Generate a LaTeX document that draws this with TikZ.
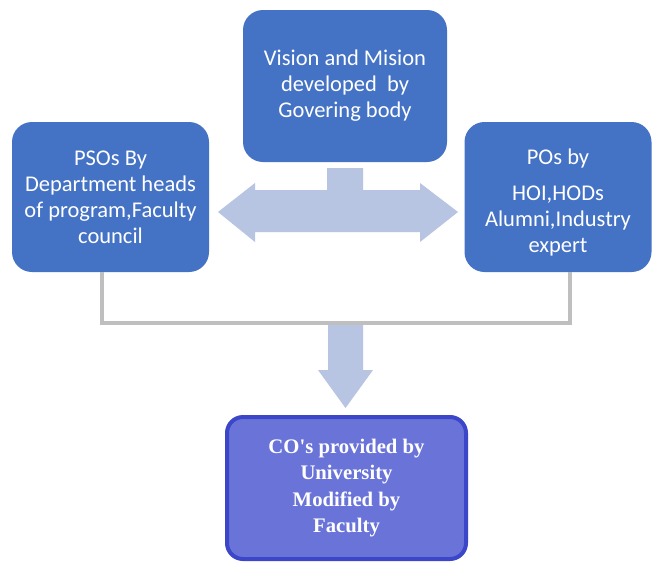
\documentclass[tikz,border=0pt]{standalone}
\usepackage{fontspec}
\setmainfont{Carlito}
\newfontfamily\timesbold[BoldFont={Liberation Serif Bold}]{Liberation Serif}
\usetikzlibrary{calc}
\definecolor{boxblue}{HTML}{4472C4}
\definecolor{arrowblue}{HTML}{B7C4E2}
\definecolor{linegray}{HTML}{BFBFBF}
\definecolor{cofill}{HTML}{6A74D8}
\definecolor{coborder}{HTML}{3C46C8}
\tikzset{
  bluebox/.style={rectangle, rounded corners=20pt, fill=boxblue, draw=none,
    text=white, align=center, inner sep=0pt,
    font=\fontsize{22.5}{26}\selectfont},
  cobox/.style={rectangle, rounded corners=16pt, fill=cofill, draw=coborder,
    line width=4pt, text=white, align=center, inner sep=0pt,
    font=\timesbold\bfseries\fontsize{20.7}{26.5}\selectfont},
  bracket/.style={draw=linegray, line width=4pt},
  bigarrow/.style={fill=arrowblue, draw=none}
}
\begin{document}
\begin{tikzpicture}[x=1pt,y=-1pt]
\useasboundingbox[fill=white] (0,0) rectangle (652,562);

% three source boxes
\node[bluebox, minimum width=204pt, minimum height=152pt] (vm) at (345,86)
  {Vision and Mision\\developed\ \ by\\Govering body};
\node[bluebox, minimum width=197pt, minimum height=150pt] (pso) at (110.5,197)
  {PSOs By\\Department heads\\of program,Faculty\\council};
\node[bluebox, minimum width=187pt, minimum height=150pt] (po) at (558,197)
  {};
\node[bluebox, fill=none] (potext) at ([yshift=-5pt]po.center)
  {POs by\\[10pt]HOI,HODs\\Alumni,Industry\\expert};

% course outcomes box
\node[cobox, minimum width=239pt, minimum height=142pt] (co) at (346.5,488)
  {CO's provided by\\University\\Modified by\\Faculty};

% bracket joining the two side boxes
\draw[bracket] ([xshift=-8.5pt]pso.south) |- coordinate[pos=0.75] (join)
  ([xshift=12pt]po.south |- 0,323) -- ([xshift=12pt]po.south);

% T-shaped double arrow under the vision box
\fill[bigarrow] (327,168) -- (363,168) -- (363,190) -- (420,190) -- (420,183)
  -- (458,212) -- (420,242) -- (420,232) -- (255,232) -- (255,242)
  -- (218,212) -- (255,183) -- (255,190) -- (327,190) -- cycle;

% downward arrow into the CO box
\fill[bigarrow] (328,325) -- (363,325) -- (363,370) -- (373,370)
  -- (345.5,408) -- (318,370) -- (328,370) -- cycle;
\end{tikzpicture}
\end{document}
